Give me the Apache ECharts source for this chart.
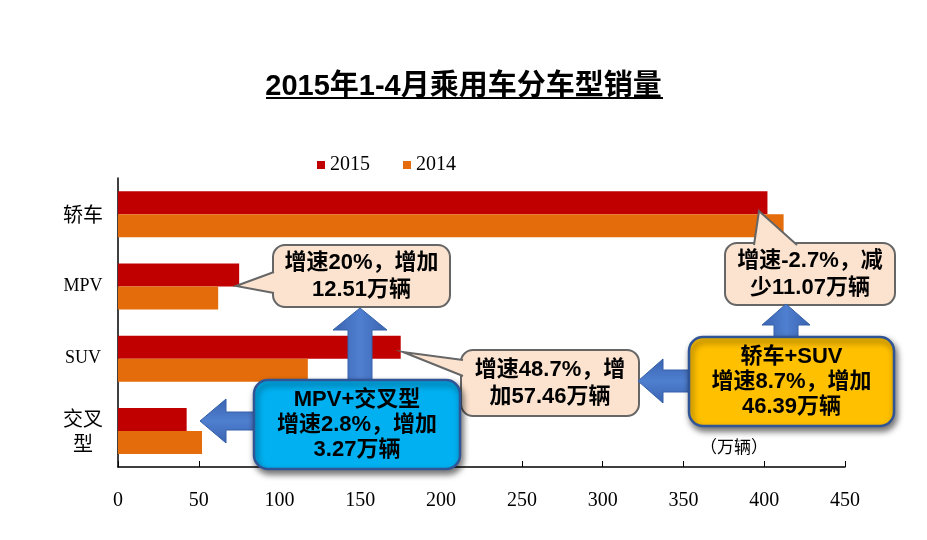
<!DOCTYPE html>
<html><head><meta charset="utf-8">
<script src="https://cdn.jsdelivr.net/npm/echarts@6/dist/echarts.min.js"></script>
<style>html,body{margin:0;padding:0;background:#fff}#c{width:927px;height:540px}</style>
</head><body><div id="c"></div>
<script>
var categories = ['轿车', 'MPV', 'SUV', '交叉型'];
var sales2015 = [402, 75, 175, 42.5];
var sales2014 = [412, 62, 117.5, 52];
var xTicks = [0, 50, 100, 150, 200, 250, 300, 350, 400, 450];
var seriesNames = ['2015', '2014'];

var chart = echarts.init(document.getElementById('c'));
var CJK = 'Noto Sans CJK SC';
var SERIF = '"Liberation Serif", "Noto Sans CJK SC"';
var BOLD = '"Liberation Sans", "Noto Sans CJK SC"';

function callout(x, y, w, h, tail, lines) {
  return [
    {type:'rect', shape:{x:x,y:y,width:w,height:h,r:12}, style:{fill:'#FCE3CF', stroke:'#666', lineWidth:2}, z:10},
    {type:'polygon', shape:{points:tail}, style:{fill:'#FCE3CF'}, z:11},
    {type:'polyline', shape:{points:tail}, style:{fill:null, stroke:'#666', lineWidth:2}, z:12},
    {type:'text', x:x+w/2, y:y+h/2, style:{text:lines, fill:'#000', font:'bold 22px ' + BOLD, align:'center', verticalAlign:'middle', lineHeight:27}, z:13}
  ];
}
function box(x, y, w, h, fill, lines) {
  return [
    {type:'rect', shape:{x:x,y:y,width:w,height:h,r:14}, style:{fill:fill, stroke:'#2F5597', lineWidth:2.5, shadowBlur:6, shadowOffsetX:2, shadowOffsetY:4, shadowColor:'rgba(0,0,0,0.55)'}, z:20},
    {type:'text', x:x+w/2, y:y+h/2, style:{text:lines, fill:'#000', font:'bold 22px ' + BOLD, align:'center', verticalAlign:'middle', lineHeight:25}, z:21}
  ];
}
function arrowUp(cx, tipY, headBaseY, endY, headHalf, shaftHalf) {
  return {type:'polygon', shape:{points:[[cx,tipY],[cx+headHalf,headBaseY],[cx+shaftHalf,headBaseY],[cx+shaftHalf,endY],[cx-shaftHalf,endY],[cx-shaftHalf,headBaseY],[cx-headHalf,headBaseY]]},
    style:{fill:new echarts.graphic.LinearGradient(0,0,1,0,[{offset:0,color:'#3A63B0'},{offset:0.5,color:'#4F7FD0'},{offset:1,color:'#3A63B0'}]), stroke:'#3560A8', lineWidth:1}, z:15};
}
function arrowLeft(tipX, cy, headBaseX, endX, headHalf, shaftHalf) {
  return {type:'polygon', shape:{points:[[tipX,cy],[headBaseX,cy-headHalf],[headBaseX,cy-shaftHalf],[endX,cy-shaftHalf],[endX,cy+shaftHalf],[headBaseX,cy+shaftHalf],[headBaseX,cy+headHalf]]},
    style:{fill:new echarts.graphic.LinearGradient(0,0,0,1,[{offset:0,color:'#3A63B0'},{offset:0.5,color:'#4F7FD0'},{offset:1,color:'#3A63B0'}]), stroke:'#3560A8', lineWidth:1}, z:15};
}

var graphics = [].concat(
  [{type:'line', shape:{x1:266,y1:98,x2:663,y2:98}, style:{stroke:'#000', lineWidth:2}}],
  callout(273, 245, 177, 62, [[274,272],[236,286],[274,293]], '增速20%，增加\n12.51万辆'),
  callout(725, 243, 170, 62, [[754,245],[759,211],[797,245]], '增速-2.7%，减\n少11.07万辆'),
  callout(461, 350, 178, 66, [[463,360],[403,352],[463,376]], '增速48.7%，增\n加57.46万辆'),
  [arrowUp(786, 304, 325, 340, 24, 12), arrowLeft(638, 381, 663, 692, 22, 11)],
  [arrowUp(360, 308, 330, 384, 27, 12), arrowLeft(200, 421, 226, 256, 22, 9)],
  box(689, 337, 205, 89, '#FFC000', '轿车+SUV\n增速8.7%，增加\n46.39万辆'),
  box(254, 380, 206, 89, '#00B0F0', 'MPV+交叉型\n增速2.8%，增加\n3.27万辆'),
  [{type:'text', x:700, y:447, style:{text:'（万辆）', fill:'#000', font:'17px ' + CJK, align:'left', verticalAlign:'middle'}, z:5}]
);

chart.setOption({
  animation:false,
  backgroundColor:'#fff',
  title:{text:'2015年1-4月乘用车分车型销量', left:'center', top:67, textStyle:{fontSize:29, fontWeight:'bold', fontFamily:BOLD, color:'#000'}},
  legend:{data:seriesNames, left:312, top:150, icon:'rect', itemWidth:8, itemHeight:8, itemGap:33,
    textStyle:{fontFamily:SERIF, fontSize:20, color:'#000'}},
  grid:{left:118, right:82, top:178, bottom:73},
  xAxis:{type:'value', min:0, max:450, interval:50,
    axisLine:{show:true, lineStyle:{color:'#000', width:1.5}},
    axisTick:{show:true, inside:true, length:6, lineStyle:{color:'#000'}},
    splitLine:{show:false},
    axisLabel:{margin:24, color:'#000', fontFamily:SERIF, fontSize:20,
      formatter:function(v){ return xTicks.indexOf(v) >= 0 ? String(v) : ''; }}},
  yAxis:{type:'category', data:categories, inverse:true,
    axisLine:{show:true, lineStyle:{color:'#000', width:1.5}},
    axisTick:{show:false},
    axisLabel:{margin:35, align:'center', color:'#000',
      formatter:function(v){
        if (/^[A-Z]+$/.test(v)) return '{l|' + v + '}';
        if (v.length > 2) return '{c|' + v.slice(0,2) + '}\n{c|' + v.slice(2) + '}';
        return '{c|' + v + '}';
      },
      rich:{l:{fontFamily:'"Liberation Serif"', fontSize:18, color:'#000'}, c:{fontFamily:CJK, fontSize:20, color:'#000', lineHeight:25}}}},
  series:[
    {name:seriesNames[0], type:'bar', data:sales2015, barWidth:23, barGap:'0%', itemStyle:{color:'#C00000'}},
    {name:seriesNames[1], type:'bar', data:sales2014, barWidth:23, barGap:'0%', itemStyle:{color:'#E46C0A'}}
  ],
  graphic:graphics
});
</script></body></html>
